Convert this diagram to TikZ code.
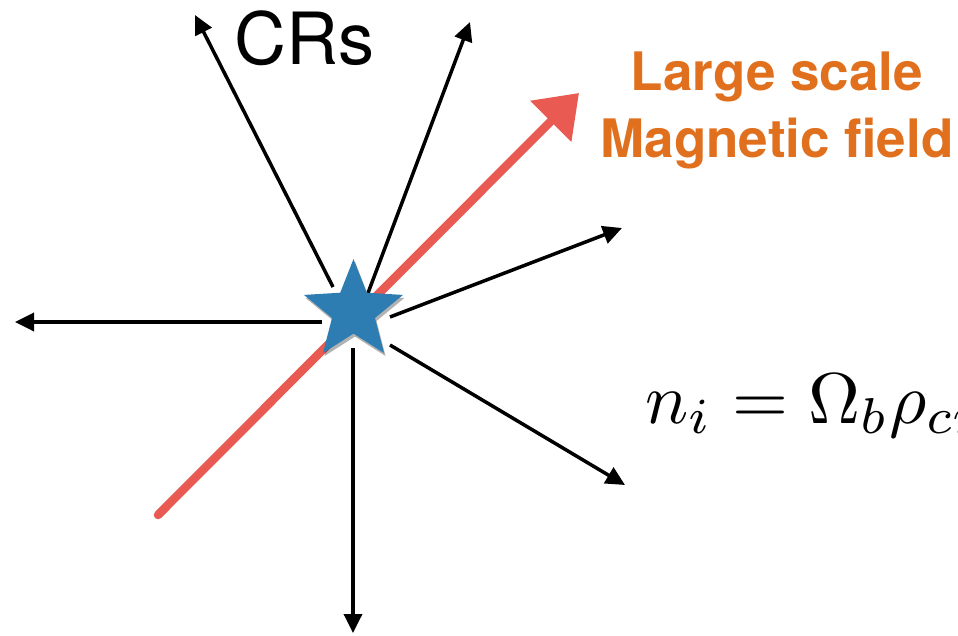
\documentclass[tikz,border=0pt]{standalone}
\usepackage[no-math]{fontspec}
\usepackage{graphicx}
\setmainfont{TeX Gyre Heros}
\usetikzlibrary{arrows.meta,shapes.geometric,shadows}
\definecolor{starblue}{HTML}{2E7DB2}
\definecolor{fieldred}{HTML}{E85A52}
\definecolor{labelorange}{HTML}{E0701E}
\tikzset{
  cr/.style={line width=3.5pt, black, -{Triangle[length=19pt,width=18pt]}},
  field/.style={line width=8.5pt, fieldred, line cap=round, -{Triangle[length=40pt,width=56pt]}},
  starnode/.style={star, star points=5, star point ratio=2.3, minimum size=104pt, inner sep=0pt, outer sep=0pt,
    fill=starblue, draw=none,
    drop shadow={shadow xshift=1.5pt, shadow yshift=-3pt, opacity=0.3, fill=black}},
  orangelabel/.style={text=labelorange, font=\bfseries\fontsize{53}{67}\selectfont, align=center, inner sep=0pt},
}
\begin{document}
\begin{tikzpicture}[x=1pt,y=-1pt]
\useasboundingbox (0,0) rectangle (958,635);
% endpoints of the rays
\coordinate (s1) at (333,287); \coordinate (t1) at (195,15);
\coordinate (s2) at (368,293); \coordinate (t2) at (470,22);
\coordinate (s3) at (390,317); \coordinate (t3) at (622,228);
\coordinate (s4) at (322,322); \coordinate (t4) at (15,322);
\coordinate (s5) at (390,345); \coordinate (t5) at (625,485);
\coordinate (s6) at (353,348); \coordinate (t6) at (353,633);
\coordinate (fs) at (158,515); \coordinate (ft) at (579,93);
% rays
\draw[cr] (s1) -- (t1);
\draw[cr] (s2) -- (t2);
\draw[cr] (s3) -- (t3);
\draw[cr] (s4) -- (t4);
\draw[cr] (s5) -- (t5);
\draw[cr] (s6) -- (t6);
% magnetic field
\draw[field] (fs) -- (ft);
% source
\node[starnode] (src) at (353.5,311) {};
% labels
\node[anchor=base west, inner sep=0pt, font=\fontsize{72}{72}\selectfont] (crs) at (234,64) {CRs};
\node[orangelabel, anchor=base] (bfield) at (777,157) {Large scale\\Magnetic field};
\node[anchor=base west, inner sep=0pt] (dens) at (645,423) {\scalebox{7.2}{$n_i=\Omega_b\rho_{cr}$}};
\end{tikzpicture}
\end{document}
